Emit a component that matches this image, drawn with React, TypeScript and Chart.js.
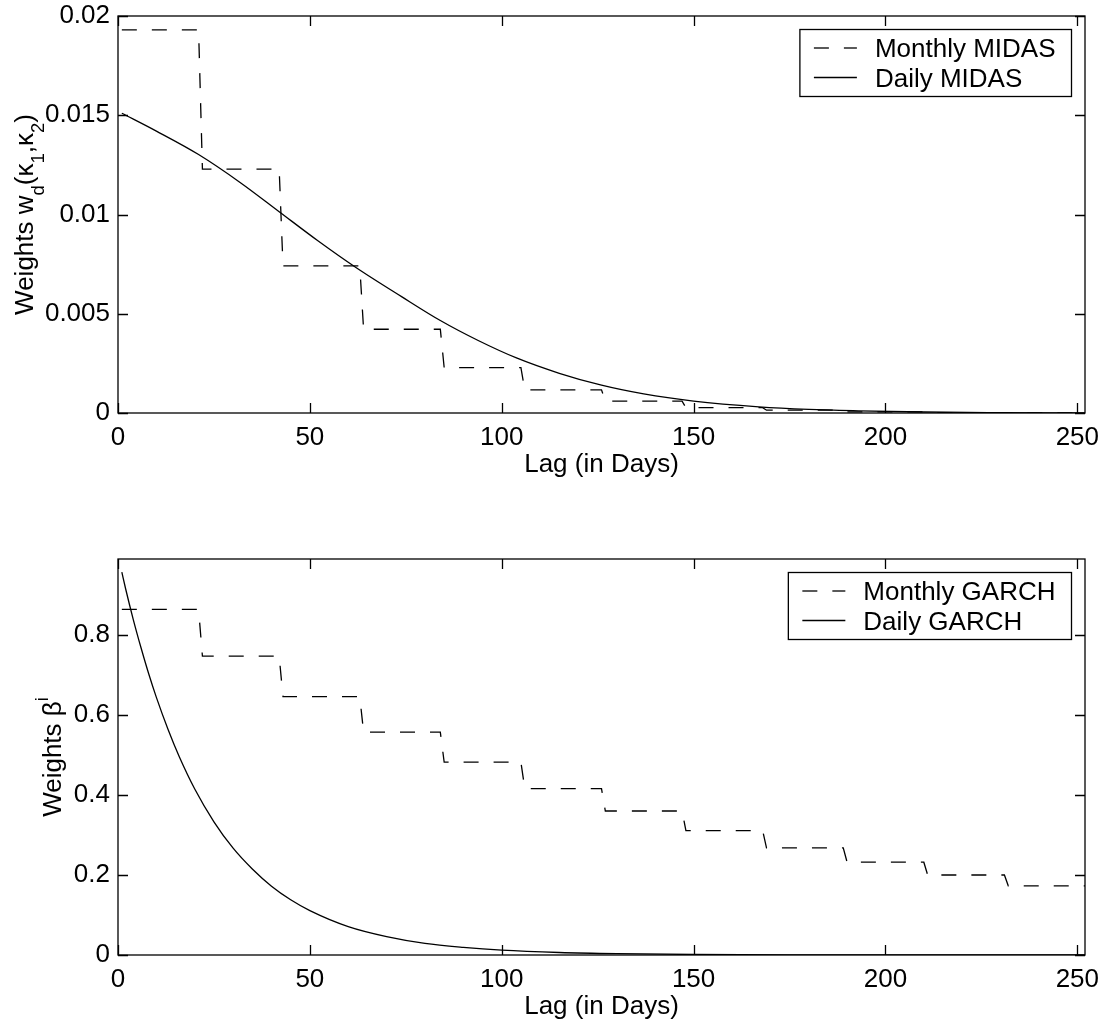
import React, { useEffect, useRef } from "react";
import { Chart, registerables } from "chart.js";

Chart.register(...registerables);

const FONT = '"Liberation Sans", Arial, Helvetica, sans-serif';
const CANVAS_W = 1106;
const CANVAS_H = 514;

// ---------- shared axis ----------
const lagMax = 252;
const lagTicks = [0, 50, 100, 150, 200, 250];
const lagTickLabels = ["0", "50", "100", "150", "200", "250"];
const xTitle = "Lag (in Days)";
const daysPerMonth = 21;

// ---------- top panel: MIDAS ----------
const midasYMax = 0.02;
const midasYTicks = [0, 0.005, 0.01, 0.015, 0.02];
const midasYTickLabels = ["0", "0.005", "0.01", "0.015", "0.02"];
const monthlyMidasLabel = "Monthly MIDAS";
const dailyMidasLabel = "Daily MIDAS";
// one weight per 21-day month
const monthlyMidasLevels = [
  0.0193, 0.01229, 0.00741, 0.00422, 0.00229, 0.00117, 0.0006, 0.00027, 0.00014, 0.00006, 0.00002, 0.00001,
];
const dailyMidasLags = [1, 10, 21, 32, 42, 52, 62, 74, 84, 94, 104, 115, 126, 137, 150, 167, 180, 193, 210, 230, 252];
const dailyMidasValues = [
  0.0151, 0.0142, 0.01302, 0.01159, 0.01014, 0.00869, 0.00733, 0.00585, 0.00466, 0.00364, 0.00276, 0.002, 0.0014,
  0.00096, 0.0006, 0.00031, 0.00018, 0.00011, 0.00005, 0.00002, 0.0,
];

// ---------- bottom panel: GARCH ----------
const garchYMax = 0.99;
const garchYTicks = [0, 0.2, 0.4, 0.6, 0.8];
const garchYTickLabels = ["0", "0.2", "0.4", "0.6", "0.8"];
const monthlyGarchLabel = "Monthly GARCH";
const dailyGarchLabel = "Daily GARCH";
const monthlyGarchLevels = [0.864, 0.747, 0.646, 0.557, 0.482, 0.416, 0.36, 0.311, 0.268, 0.232, 0.2, 0.173];
const dailyGarchLags = [1, 2, 4, 6, 8, 10, 13, 16, 20, 25, 30, 35, 40, 45, 50, 60, 70, 80, 90, 100, 115, 130, 150, 175, 200, 225, 252];
const dailyGarchValues = [
  0.957, 0.915, 0.838, 0.768, 0.703, 0.644, 0.565, 0.495, 0.415, 0.333, 0.267, 0.215, 0.172, 0.138, 0.111, 0.071,
  0.046, 0.029, 0.019, 0.012, 0.0062, 0.0032, 0.0013, 0.0004, 0.0001, 0.00003, 0.00001,
];

type Part = { t: string; s?: "sub" | "sup" };

const midasYTitle: Part[] = [
  { t: "Weights w" },
  { t: "d", s: "sub" },
  { t: "(\u03BA" },
  { t: "1", s: "sub" },
  { t: ",\u03BA" },
  { t: "2", s: "sub" },
  { t: ")" },
];
const garchYTitle: Part[] = [{ t: "Weights \u03B2" }, { t: "i", s: "sup" }];

function stepPoints(levels: number[]) {
  const pts: { x: number; y: number }[] = [];
  levels.forEach((v, m) => {
    pts.push({ x: m * daysPerMonth + 1, y: v });
    pts.push({ x: (m + 1) * daysPerMonth, y: v });
  });
  return pts;
}

function curvePoints(lags: number[], vals: number[]) {
  return lags.map((x, i) => ({ x, y: vals[i] }));
}

const decorPlugin = {
  id: "matlabDecor",
  afterDraw(chart: any, _args: any, opts: any) {
    const { ctx, chartArea: ca, scales } = chart;
    const xs = scales.x;
    const ys = scales.y;
    ctx.save();
    ctx.strokeStyle = "#000";
    ctx.fillStyle = "#000";
    ctx.lineWidth = 1.3;
    ctx.setLineDash([]);

    // inward ticks on all four sides
    const tl = 10;
    ctx.beginPath();
    xs.ticks.forEach((t: any) => {
      const p = Math.round(xs.getPixelForValue(t.value)) + 0.5;
      ctx.moveTo(p, ca.bottom);
      ctx.lineTo(p, ca.bottom - tl);
      ctx.moveTo(p, ca.top);
      ctx.lineTo(p, ca.top + tl);
    });
    ys.ticks.forEach((t: any) => {
      const p = Math.round(ys.getPixelForValue(t.value)) + 0.5;
      ctx.moveTo(ca.left, p);
      ctx.lineTo(ca.left + tl, p);
      ctx.moveTo(ca.right, p);
      ctx.lineTo(ca.right - tl, p);
    });
    ctx.stroke();
    ctx.strokeRect(ca.left, ca.top, ca.right - ca.left, ca.bottom - ca.top);

    // x title
    ctx.font = `26px ${FONT}`;
    ctx.textAlign = "center";
    ctx.textBaseline = "alphabetic";
    ctx.fillText(opts.xTitle, (ca.left + ca.right) / 2, ca.bottom + opts.xTitleOffset);

    // y title with sub/superscripts, rotated
    const parts: Part[] = opts.yTitle;
    const mainFont = `26px ${FONT}`;
    const smallFont = `18.5px ${FONT}`;
    let total = 0;
    const widths = parts.map((p) => {
      ctx.font = p.s ? smallFont : mainFont;
      const w = ctx.measureText(p.t).width;
      total += w;
      return w;
    });
    ctx.save();
    ctx.translate(opts.yTitleBaseline, (ca.top + ca.bottom) / 2);
    ctx.rotate(-Math.PI / 2);
    ctx.textAlign = "left";
    let cx = -total / 2;
    parts.forEach((p, i) => {
      ctx.font = p.s ? smallFont : mainFont;
      const dy = p.s === "sub" ? 11 : p.s === "sup" ? -13 : 0;
      ctx.fillText(p.t, cx, dy);
      cx += widths[i];
    });
    ctx.restore();

    // legend box inside plot, upper right
    const ds = chart.data.datasets;
    ctx.font = mainFont;
    const tw = Math.max(...ds.map((d: any) => ctx.measureText(d.label).width));
    const bw = 75 + tw + 16;
    const bh = 67;
    const bx = ca.right - 13.5 - bw;
    const by = ca.top + 13.5;
    ctx.fillStyle = "#fff";
    ctx.fillRect(bx, by, bw, bh);
    ctx.lineWidth = 1.3;
    ctx.strokeStyle = "#000";
    ctx.strokeRect(bx, by, bw, bh);
    ds.forEach((d: any, i: number) => {
      const ly = by + 18.5 + i * 29.5;
      ctx.setLineDash(d.borderDash || []);
      ctx.lineWidth = d.borderWidth;
      ctx.strokeStyle = d.borderColor;
      ctx.beginPath();
      ctx.moveTo(bx + 14, ly);
      ctx.lineTo(bx + 57, ly);
      ctx.stroke();
      ctx.setLineDash([]);
      ctx.fillStyle = "#000";
      ctx.textAlign = "left";
      ctx.fillText(d.label, bx + 75, ly + 9);
    });
    ctx.restore();
  },
};

interface PanelCfg {
  monthlyLabel: string;
  dailyLabel: string;
  monthly: { x: number; y: number }[];
  daily: { x: number; y: number }[];
  yMax: number;
  yTicks: number[];
  yTickLabels: string[];
  yTitle: Part[];
  yTitleBaseline: number;
  padTop: number;
  xAxisHeight: number;
}

function buildChart(canvas: HTMLCanvasElement, cfg: PanelCfg) {
  const tickFont = { family: FONT, size: 26 };
  return new Chart(canvas, {
    type: "line",
    data: {
      datasets: [
        {
          label: cfg.monthlyLabel,
          data: cfg.monthly,
          borderColor: "#000",
          borderWidth: 1.3,
          borderDash: [15, 15],
          pointRadius: 0,
          fill: false,
          tension: 0,
        },
        {
          label: cfg.dailyLabel,
          data: cfg.daily,
          borderColor: "#000",
          borderWidth: 1.3,
          pointRadius: 0,
          fill: false,
          cubicInterpolationMode: "monotone",
        },
      ],
    },
    options: {
      animation: false,
      responsive: false,
      devicePixelRatio: 1,
      events: [],
      layout: { padding: { top: cfg.padTop, right: 21, left: 0, bottom: 0 } },
      plugins: {
        legend: { display: false },
        tooltip: { enabled: false },
        matlabDecor: {
          xTitle,
          xTitleOffset: 59,
          yTitle: cfg.yTitle,
          yTitleBaseline: cfg.yTitleBaseline,
        },
      } as any,
      scales: {
        x: {
          type: "linear",
          min: 0,
          max: lagMax,
          afterBuildTicks: (s: any) => {
            s.ticks = lagTicks.map((v) => ({ value: v }));
          },
          afterFit: (s: any) => {
            s.height = cfg.xAxisHeight;
            s.paddingLeft = 0;
            s.paddingRight = 0;
            s.paddingTop = 0;
            s.paddingBottom = 0;
          },
          ticks: {
            callback: (v: any) => lagTickLabels[lagTicks.indexOf(v)] ?? "",
            font: tickFont,
            color: "#000",
            padding: 9,
            maxRotation: 0,
            autoSkip: false,
          },
          grid: { display: false, drawTicks: false },
          border: { display: false },
        },
        y: {
          type: "linear",
          min: 0,
          max: cfg.yMax,
          afterBuildTicks: (s: any) => {
            s.ticks = cfg.yTicks.map((v) => ({ value: v }));
          },
          afterFit: (s: any) => {
            s.width = 118;
            s.paddingLeft = 0;
            s.paddingRight = 0;
            s.paddingTop = 0;
            s.paddingBottom = 0;
          },
          ticks: {
            callback: (v: any) => cfg.yTickLabels[cfg.yTicks.indexOf(v)] ?? "",
            font: tickFont,
            color: "#000",
            padding: 8,
            autoSkip: false,
          },
          grid: { display: false, drawTicks: false },
          border: { display: false },
        },
      },
    },
    plugins: [decorPlugin as any],
  });
}

export default function App() {
  const topRef = useRef<HTMLCanvasElement | null>(null);
  const botRef = useRef<HTMLCanvasElement | null>(null);

  useEffect(() => {
    const top = buildChart(topRef.current!, {
      monthlyLabel: monthlyMidasLabel,
      dailyLabel: dailyMidasLabel,
      monthly: stepPoints(monthlyMidasLevels),
      daily: curvePoints(dailyMidasLags, dailyMidasValues),
      yMax: midasYMax,
      yTicks: midasYTicks,
      yTickLabels: midasYTickLabels,
      yTitle: midasYTitle,
      yTitleBaseline: 33,
      padTop: 16,
      xAxisHeight: 101,
    });
    const bot = buildChart(botRef.current!, {
      monthlyLabel: monthlyGarchLabel,
      dailyLabel: dailyGarchLabel,
      monthly: stepPoints(monthlyGarchLevels),
      daily: curvePoints(dailyGarchLags, dailyGarchValues),
      yMax: garchYMax,
      yTicks: garchYTicks,
      yTickLabels: garchYTickLabels,
      yTitle: garchYTitle,
      yTitleBaseline: 61,
      padTop: 45,
      xAxisHeight: 73,
    });
    return () => {
      top.destroy();
      bot.destroy();
    };
  }, []);

  return (
    <div style={{ position: "absolute", left: 0, top: 0, width: CANVAS_W, height: CANVAS_H * 2, background: "#fff" }}>
      <canvas ref={topRef} width={CANVAS_W} height={CANVAS_H} style={{ position: "absolute", left: 0, top: 0 }} />
      <canvas ref={botRef} width={CANVAS_W} height={CANVAS_H} style={{ position: "absolute", left: 0, top: CANVAS_H }} />
    </div>
  );
}
